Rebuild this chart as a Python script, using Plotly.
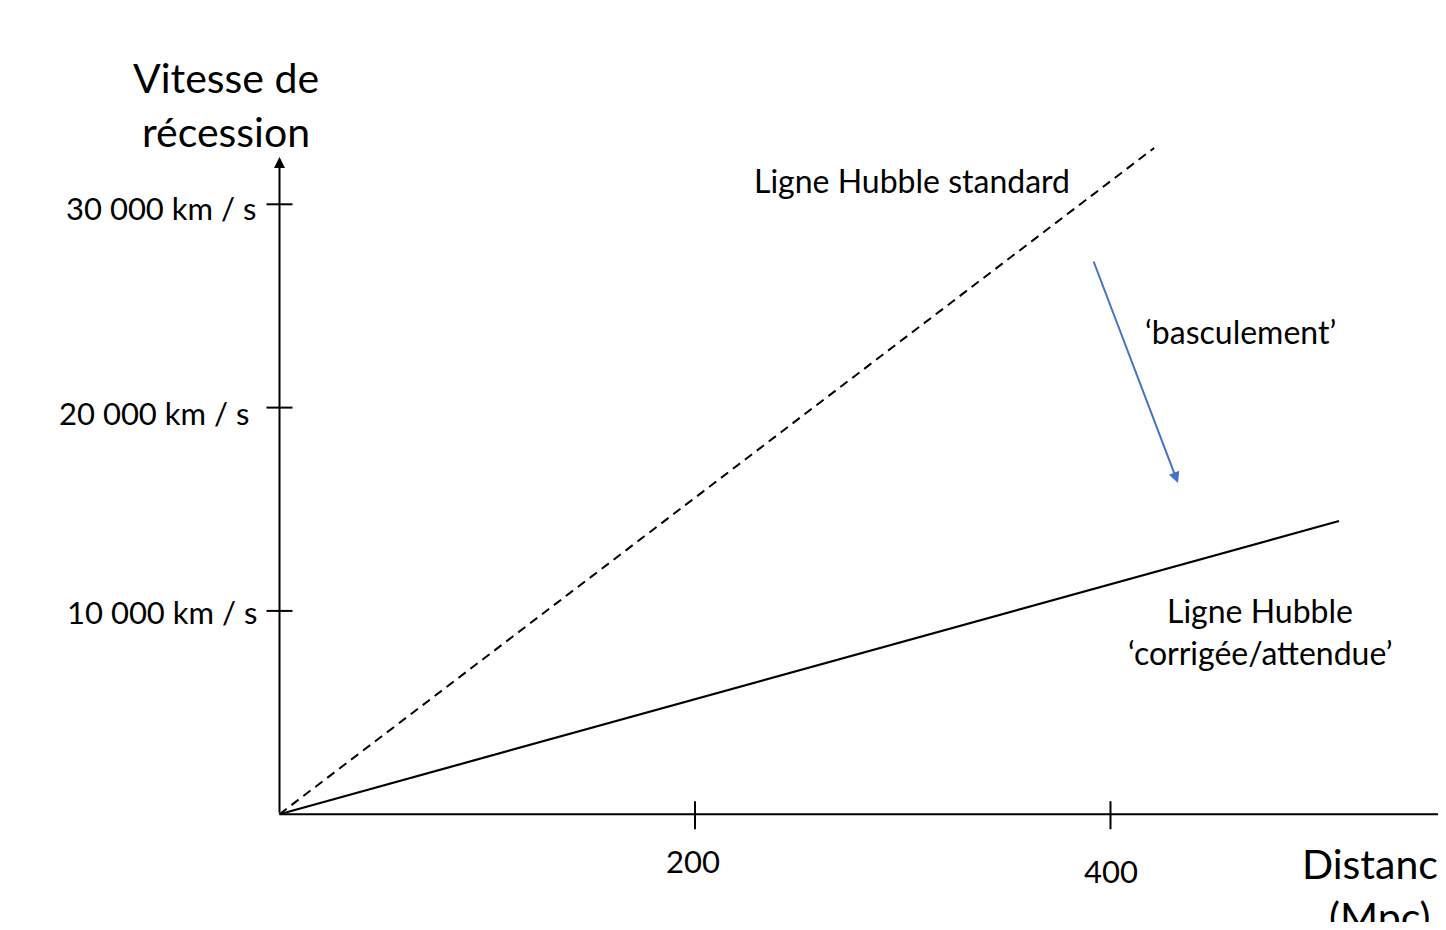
import plotly.graph_objects as go

# ---------------- data ----------------
distance_standard = [0, 421]
vitesse_standard = [0, 32770]
distance_corrigee = [0, 510]
vitesse_corrigee = [0, 14420]

y_tick_values = [10000, 20000, 30000]
y_tick_labels = ["10 000 km / s", "20 000 km / s", "30 000 km / s"]
x_tick_values = [200, 400]
x_tick_labels = ["200", "400"]

y_axis_top = 32330          # tip of the vertical axis arrow (km/s)
x_axis_end = 600            # horizontal axis runs past the right edge (Mpc)
bascule_start = [391.6, 27260]
bascule_end = [432.5, 16290]

# ---------------- geometry helpers ----------------
W, H = 1430, 914
OFF = 8  # default body margin of the html page
X0_PX, X_SCALE = 279.5, 2.0775
Y0_PX, Y_SCALE = 814.2, 0.02033


def xr(p):
    return (p - X0_PX) / X_SCALE


def yr(p):
    return (Y0_PX - p) / Y_SCALE


def px(p):
    return (p - OFF) / W


def py(p):
    return 1 - (p - OFF) / H


FONT = "Lato"
BIG = 41
SMALL = 31
LABEL = 32
BLACK = "#000000"
BLUE = "#4472C4"

fig = go.Figure()

fig.add_trace(go.Scatter(
    x=distance_standard, y=vitesse_standard, mode="lines",
    line=dict(color=BLACK, width=2, dash="9px,6px"),
    hoverinfo="skip", showlegend=False))
fig.add_trace(go.Scatter(
    x=distance_corrigee, y=vitesse_corrigee, mode="lines",
    line=dict(color=BLACK, width=2.2),
    hoverinfo="skip", showlegend=False))

shapes = []
# horizontal axis
shapes.append(dict(type="line", xref="x", yref="y", x0=0, x1=x_axis_end, y0=0, y1=0,
                   line=dict(color=BLACK, width=2)))
# y ticks (crossing the axis)
for v in y_tick_values:
    shapes.append(dict(type="line", xref="x", yref="y", xsizemode="pixel", xanchor=0,
                       x0=-13, x1=13, y0=v, y1=v, line=dict(color=BLACK, width=2)))
# x ticks (crossing the axis)
for v in x_tick_values:
    shapes.append(dict(type="line", xref="x", yref="y", ysizemode="pixel", yanchor=0,
                       y0=-15, y1=13, x0=v, x1=v, line=dict(color=BLACK, width=2)))

annotations = []
# vertical axis with arrow
annotations.append(dict(x=0, y=y_axis_top, ax=0, ay=0, xref="x", yref="y",
                        axref="x", ayref="y", text="", showarrow=True,
                        arrowhead=2, arrowsize=1.1, arrowwidth=2, arrowcolor=BLACK))
# blue 'basculement' arrow
annotations.append(dict(x=bascule_end[0], y=bascule_end[1], ax=bascule_start[0], ay=bascule_start[1],
                        xref="x", yref="y", axref="x", ayref="y", text="", showarrow=True,
                        arrowhead=2, arrowsize=1.1, arrowwidth=2, arrowcolor=BLUE))

# y tick labels
y_label_shift = {10000: (-21, -1), 20000: (-29, -5), 30000: (-22, -4)}
for v, t in zip(y_tick_values, y_tick_labels):
    dx, dy = y_label_shift[v]
    annotations.append(dict(x=0, y=v, xref="x", yref="y", text=t, showarrow=False,
                            xanchor="right", yanchor="middle", xshift=dx, yshift=dy,
                            font=dict(family=FONT, size=SMALL, color=BLACK)))
# x tick labels
x_label_shift = {200: (-2, -47), 400: (0, -57)}
for v, t in zip(x_tick_values, x_tick_labels):
    dx, dy = x_label_shift[v]
    annotations.append(dict(x=v, y=0, xref="x", yref="y", text=t, showarrow=False,
                            xanchor="center", yanchor="middle", xshift=dx, yshift=dy,
                            font=dict(family=FONT, size=SMALL, color=BLACK)))


def label(text, cx, cy, size):
    annotations.append(dict(x=px(cx), y=py(cy), xref="paper", yref="paper", text=text,
                            showarrow=False, xanchor="center", yanchor="middle",
                            font=dict(family=FONT, size=size, color=BLACK)))


label("Vitesse de", 226, 78, BIG)
label("récession", 226, 132, BIG)
label("Distance", 1380, 863, BIG)
label("(Mpc)", 1380, 916, BIG)
label("Ligne Hubble standard", 912, 180, LABEL)
label("\u2018basculement\u2019", 1240, 331, LABEL)
label("Ligne Hubble", 1260, 610, LABEL)
label("\u2018corrigée/attendue\u2019", 1260, 652, LABEL)

fig.update_layout(
    width=W, height=H,
    margin=dict(l=0, r=0, t=0, b=0),
    paper_bgcolor="white", plot_bgcolor="white",
    xaxis=dict(range=[xr(OFF), xr(OFF + W)], visible=False, fixedrange=True),
    yaxis=dict(range=[yr(OFF + H), yr(OFF)], visible=False, fixedrange=True),
    shapes=shapes, annotations=annotations,
    showlegend=False,
)

fig.write_html("out.html")
